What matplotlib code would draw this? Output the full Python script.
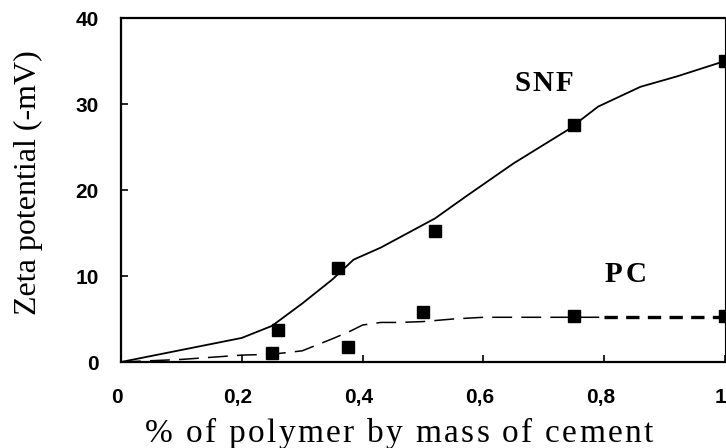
import matplotlib
matplotlib.use('Agg')
import matplotlib.pyplot as plt
import numpy as np
from matplotlib.font_manager import FontProperties
from matplotlib.transforms import offset_copy, ScaledTranslation

# measured zeta potential (-mV) against dosage (% by mass of cement)
snf_dose = [0.26, 0.36, 0.52, 0.75, 1.0]
snf_zeta = [3.7, 10.9, 15.2, 27.6, 35.0]
pc_dose = [0.25, 0.375, 0.5, 0.75, 1.0]
pc_zeta = [1.0, 1.7, 5.8, 5.3, 5.4]

# hand-drawn trend curves
snf_curve_x = [0, 0.1, 0.2, 0.25, 0.3, 0.35, 0.385, 0.43, 0.52, 0.57, 0.65, 0.74, 0.79, 0.86, 0.92, 1.0]
snf_curve_y = [0, 1.4, 2.8, 4.2, 6.8, 9.6, 11.9, 13.3, 16.7, 19.2, 23.1, 27.0, 29.7, 32.0, 33.2, 35.0]
pc_curve_x = [0, 0.1, 0.2, 0.25, 0.3, 0.35, 0.38, 0.4, 0.43, 0.46, 0.5, 0.55, 0.6, 0.8, 1.0]
pc_curve_y = [0, 0.3, 0.8, 0.9, 1.3, 2.7, 3.6, 4.3, 4.6, 4.6, 4.7, 5.0, 5.2, 5.2, 5.2]

x_ticks = [0, 0.2, 0.4, 0.6, 0.8, 1.0]
x_tick_labels = ['0', '0,2', '0,4', '0,6', '0,8', '1']
y_ticks = [0, 10, 20, 30, 40]
y_tick_labels = ['0', '10', '20', '30', '40']

W, H = 726, 448


def spaced_text(fig, x, y, s, gap, transform, ha='left', **font):
    # draw s one glyph at a time with extra letter spacing (gap in pixels)
    prop = FontProperties(**font)
    r = fig.canvas.get_renderer()
    width = lambda t: r.get_text_width_height_descent(t, prop, ismath=False)[0]
    base = width('xx')
    adv = [width('x' + ch + 'x') - base for ch in s]
    total = sum(adv) + gap * (len(s) - 1)
    off = {'left': 0, 'center': -total / 2, 'right': -total}[ha]
    for ch, a in zip(s, adv):
        tr = offset_copy(transform, fig=fig, x=off, y=0, units='dots')
        fig.text(x, y, ch, transform=tr, ha='left', va='baseline', fontproperties=prop)
        off += a + gap


fig = plt.figure(figsize=(W / 100, H / 100), dpi=100)
ax = fig.add_axes([121 / W, (H - 362) / H, 604 / W, 344 / H])

ax.plot(snf_curve_x, snf_curve_y, color='black', lw=1.3)

px = np.array(pc_curve_x)
py = np.array(pc_curve_y)
thin = px <= 0.8
ax.plot(px[thin], py[thin], color='black', lw=1.1, dashes=(13, 6))
ax.plot(px[px >= 0.8], py[px >= 0.8], color='black', lw=2.4, dashes=(4, 2.5))

ax.plot(snf_dose, snf_zeta, 's', color='black', ms=9, clip_on=False)
ax.plot(pc_dose, pc_zeta, 's', color='black', ms=9, clip_on=False)

ax.set_xlim(0, 1)
ax.set_ylim(0, 40)
ax.tick_params(axis='x', direction='in', length=5, width=1.2, pad=19)
ax.tick_params(axis='y', direction='in', length=5, width=1.2, pad=16)

tick_font = FontProperties(family='Liberation Sans', weight='bold', size=15)
ax.set_xticks(x_ticks)
ax.set_xticklabels(x_tick_labels, fontproperties=tick_font)
ax.set_yticks(y_ticks)
ax.set_yticklabels(y_tick_labels, fontproperties=tick_font)

# x tick labels sit a little left of their ticks
shift = ScaledTranslation(-4 / 100, 0, fig.dpi_scale_trans)
for lab in ax.get_xticklabels():
    lab.set_transform(lab.get_transform() + shift)

for side in ['left', 'bottom', 'top']:
    ax.spines[side].set_linewidth(1.6)
ax.spines['right'].set_linewidth(0.8)

# axis titles
fig.text(28 / W, 1 - 183 / H, 'Zeta potential (-mV)', rotation=90, ha='center', va='center',
         family='Liberation Serif', size=23)
spaced_text(fig, 399 / W, (H - 442) / H, '% of polymer by mass of cement', 2.3, fig.transFigure,
            ha='center', family='Liberation Serif', size=24)

# series labels
spaced_text(fig, 0.651, 31.5, 'SNF', 2, ax.transData, family='Liberation Serif', weight='bold', size=21)
spaced_text(fig, 0.801, 9.3, 'PC', 3, ax.transData, family='Liberation Serif', weight='bold', size=21)

fig.savefig('out.png', dpi=100)
